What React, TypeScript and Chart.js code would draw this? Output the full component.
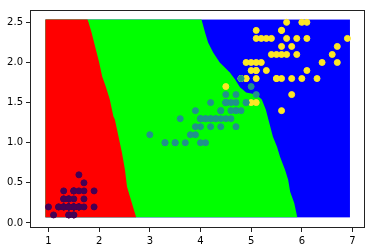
import React, { useEffect, useRef } from "react";
import { Chart, registerables } from "chart.js";

Chart.register(...registerables);

// Iris petal length / width, by class
const SETOSA_LEN = [1.4,1.4,1.3,1.5,1.4,1.7,1.4,1.5,1.4,1.5,1.5,1.6,1.4,1.1,1.2,1.5,1.3,1.4,1.7,1.5,1.7,1.5,1.0,1.7,1.9,1.6,1.6,1.5,1.4,1.6,1.6,1.5,1.5,1.4,1.5,1.2,1.3,1.4,1.3,1.5,1.3,1.3,1.3,1.6,1.9,1.4,1.6,1.4,1.5,1.4];
const SETOSA_WID = [0.2,0.2,0.2,0.2,0.2,0.4,0.3,0.2,0.2,0.1,0.2,0.2,0.1,0.1,0.2,0.4,0.4,0.3,0.3,0.3,0.2,0.4,0.2,0.5,0.2,0.2,0.4,0.2,0.2,0.2,0.2,0.4,0.1,0.2,0.2,0.2,0.2,0.1,0.2,0.2,0.3,0.3,0.2,0.6,0.4,0.3,0.2,0.2,0.2,0.2];
const VERSI_LEN = [4.7,4.5,4.9,4.0,4.6,4.5,4.7,3.3,4.6,3.9,3.5,4.2,4.0,4.7,3.6,4.4,4.5,4.1,4.5,3.9,4.8,4.0,4.9,4.7,4.3,4.4,4.8,5.0,4.5,3.5,3.8,3.7,3.9,5.1,4.5,4.5,4.7,4.4,4.1,4.0,4.4,4.6,4.0,3.3,4.2,4.2,4.2,4.3,3.0,4.1];
const VERSI_WID = [1.4,1.5,1.5,1.3,1.5,1.3,1.6,1.0,1.3,1.4,1.0,1.5,1.0,1.4,1.3,1.4,1.5,1.0,1.5,1.1,1.8,1.3,1.5,1.2,1.3,1.4,1.4,1.7,1.5,1.0,1.1,1.0,1.2,1.6,1.5,1.6,1.5,1.3,1.3,1.3,1.2,1.4,1.2,1.0,1.3,1.2,1.3,1.3,1.1,1.3];
const VIRG_LEN = [6.0,5.1,5.9,5.6,5.8,6.6,4.5,6.3,5.8,6.1,5.1,5.3,5.5,5.0,5.1,5.3,5.5,6.7,6.9,5.0,5.7,4.9,6.7,4.9,5.7,6.0,4.8,4.9,5.6,5.8,6.1,6.4,5.6,5.1,5.6,6.1,5.6,5.5,4.8,5.4,5.6,5.1,5.1,5.9,5.7,5.2,5.0,5.2,5.4,5.1];
const VIRG_WID = [2.5,1.9,2.1,1.8,2.2,2.1,1.7,1.8,1.8,2.5,2.0,1.9,2.1,2.0,2.4,2.3,1.8,2.2,2.3,1.5,2.3,2.0,2.0,1.8,2.1,1.8,1.8,1.8,2.1,1.6,1.9,2.0,2.2,1.5,1.4,2.3,2.4,1.8,1.8,2.1,2.4,2.3,1.9,2.3,2.5,2.3,1.9,2.0,2.3,1.8];

// Decision-region boundaries, top to bottom
const RG_BOUND_Y = [2.535, 2.5, 2.375, 2.25, 2.125, 2.0, 1.825, 1.7, 1.54, 1.33, 1.29, 0.875, 0.66, 0.45, 0.325, 0.07];
const RG_BOUND_X = [1.77, 1.79, 1.85, 1.9, 1.95, 2.0, 2.06, 2.13, 2.21, 2.28, 2.31, 2.45, 2.51, 2.55, 2.61, 2.73];
const GB_BOUND_Y = [2.535, 2.375, 2.25, 2.125, 2.0, 1.875, 1.79, 1.69, 1.625, 1.6, 1.54, 1.41, 1.29, 1.075, 0.95, 0.825, 0.66, 0.54, 0.39, 0.25, 0.07];
const GB_BOUND_X = [4.02, 4.09, 4.15, 4.25, 4.38, 4.58, 4.68, 4.78, 4.9, 5.1, 5.21, 5.29, 5.34, 5.43, 5.51, 5.57, 5.67, 5.73, 5.77, 5.85, 5.91];
const GRID_X = [0.94, 6.95];
const GRID_Y = [0.07, 2.535];

const X_TICKS = [1, 2, 3, 4, 5, 6, 7];
const Y_TICKS = [0.0, 0.5, 1.0, 1.5, 2.0, 2.5];
const X_RANGE = [0.635, 7.247];
const Y_RANGE = [-0.0625, 2.654];

const pts = (xs: number[], ys: number[]) => xs.map((x, i) => ({ x, y: ys[i] }));

const regionPlugin = {
  id: "regions",
  beforeDatasetsDraw(chart: any) {
    const { ctx } = chart;
    const xs = chart.scales.x;
    const ys = chart.scales.y;
    const px = (v: number) => xs.getPixelForValue(v);
    const py = (v: number) => ys.getPixelForValue(v);
    ctx.save();
    // blue: full grid
    ctx.fillStyle = "#0000ff";
    ctx.fillRect(px(GRID_X[0]), py(GRID_Y[1]), px(GRID_X[1]) - px(GRID_X[0]), py(GRID_Y[0]) - py(GRID_Y[1]));
    const poly = (bx: number[], by: number[], color: string) => {
      ctx.beginPath();
      ctx.moveTo(px(GRID_X[0]), py(GRID_Y[1]));
      for (let i = 0; i < bx.length; i++) ctx.lineTo(px(bx[i]), py(by[i]));
      ctx.lineTo(px(GRID_X[0]), py(GRID_Y[0]));
      ctx.closePath();
      ctx.fillStyle = color;
      ctx.fill();
    };
    poly(GB_BOUND_X, GB_BOUND_Y, "#00ff00");
    poly(RG_BOUND_X, RG_BOUND_Y, "#ff0000");
    ctx.restore();
  },
  afterDatasetsDraw(chart: any) {
    const { ctx, chartArea } = chart;
    ctx.save();
    ctx.strokeStyle = "#222";
    ctx.lineWidth = 1;
    ctx.strokeRect(chartArea.left + 0.5, chartArea.top + 0.5, chartArea.right - chartArea.left - 1, chartArea.bottom - chartArea.top - 1);
    ctx.restore();
  },
};

export default function App() {
  const ref = useRef<HTMLCanvasElement | null>(null);
  useEffect(() => {
    document.body.style.margin = "0";
    const mk = (data: any[], color: string) => ({
      type: "scatter" as const,
      data,
      backgroundColor: color,
      borderColor: color,
      borderWidth: 1,
      pointRadius: 3,
      pointHoverRadius: 3,
    });
    const chart = new Chart(ref.current as HTMLCanvasElement, {
      type: "scatter",
      data: {
        datasets: [
          mk(pts(SETOSA_LEN, SETOSA_WID), "#440154"),
          mk(pts(VERSI_LEN, VERSI_WID), "#21918c"),
          mk(pts(VIRG_LEN, VIRG_WID), "#fde725"),
        ],
      },
      options: {
        animation: false,
        responsive: false,
        layout: { padding: { top: 10, right: 10, left: 0, bottom: 0 } },
        plugins: { legend: { display: false }, tooltip: { enabled: false } },
        scales: {
          x: {
            type: "linear",
            min: X_RANGE[0],
            max: X_RANGE[1],
            afterBuildTicks: (s: any) => { s.ticks = X_TICKS.map((v) => ({ value: v })); },
            afterFit: (s: any) => { s.height = 24; },
            border: { display: false },
            grid: { display: true, drawOnChartArea: false, drawTicks: true, tickLength: 4, color: "#222" },
            ticks: {
              padding: 3,
              color: "#000",
              font: { family: "DejaVu Sans", size: 10 },
              callback: (v: any) => String(v),
              maxRotation: 0,
            },
          },
          y: {
            type: "linear",
            min: Y_RANGE[0],
            max: Y_RANGE[1],
            afterBuildTicks: (s: any) => { s.ticks = Y_TICKS.map((v) => ({ value: v })); },
            afterFit: (s: any) => { s.width = 30; },
            border: { display: false },
            grid: { display: true, drawOnChartArea: false, drawTicks: true, tickLength: 4, color: "#222" },
            ticks: {
              padding: 3,
              color: "#000",
              font: { family: "DejaVu Sans", size: 10 },
              callback: (v: any) => Number(v).toFixed(1),
            },
          },
        },
      },
      plugins: [regionPlugin],
    });
    return () => chart.destroy();
  }, []);
  return (
    <div style={{ position: "fixed", left: 0, top: 0, width: 375, height: 252, background: "#fff" }}>
      <canvas ref={ref} width={375} height={252} style={{ width: 375, height: 252 }} />
    </div>
  );
}
